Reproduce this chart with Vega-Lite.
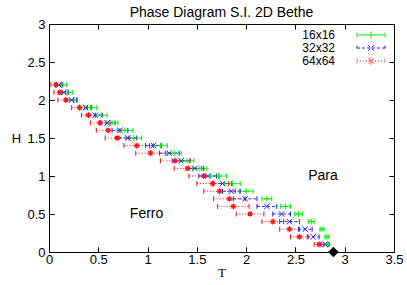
{
  "$schema": "https://vega.github.io/schema/vega-lite/v6.json",
  "width": 345,
  "height": 228,
  "autosize": {"type": "none"},
  "padding": {"left": 49, "top": 24, "right": 13, "bottom": 33},
  "background": "white",
  "title": {"text": "Phase Diagram S.I. 2D Bethe", "font": "Liberation Sans", "fontSize": 14, "fontWeight": "normal", "color": "#000", "offset": -2},
  "config": {
    "view": {"stroke": "#000", "strokeWidth": 1},
    "axis": {"domain": false, "tickColor": "#000", "tickSize": -5, "labelOverlap": false, "labelFlush": false, "labelFont": "Liberation Sans", "labelFontSize": 13, "labelColor": "#000", "titleColor": "#000", "titleFontWeight": "normal", "gridColor": "#000", "gridOpacity": 1, "gridWidth": 1}
  },
  "data": {"values": [
    {"s": "16x16", "H": 2.2, "T": 0.13, "lo": 0.08, "hi": 0.18},
    {"s": "16x16", "H": 2.1, "T": 0.19, "lo": 0.14, "hi": 0.24},
    {"s": "16x16", "H": 2.0, "T": 0.25, "lo": 0.21, "hi": 0.29},
    {"s": "16x16", "H": 1.9, "T": 0.42, "lo": 0.36, "hi": 0.48},
    {"s": "16x16", "H": 1.8, "T": 0.53, "lo": 0.47, "hi": 0.59},
    {"s": "16x16", "H": 1.7, "T": 0.64, "lo": 0.58, "hi": 0.70},
    {"s": "16x16", "H": 1.6, "T": 0.77, "lo": 0.69, "hi": 0.85},
    {"s": "16x16", "H": 1.5, "T": 0.86, "lo": 0.78, "hi": 0.94},
    {"s": "16x16", "H": 1.4, "T": 1.13, "lo": 1.06, "hi": 1.20},
    {"s": "16x16", "H": 1.3, "T": 1.27, "lo": 1.20, "hi": 1.34},
    {"s": "16x16", "H": 1.2, "T": 1.40, "lo": 1.33, "hi": 1.47},
    {"s": "16x16", "H": 1.1, "T": 1.53, "lo": 1.46, "hi": 1.60},
    {"s": "16x16", "H": 1.0, "T": 1.72, "lo": 1.64, "hi": 1.80},
    {"s": "16x16", "H": 0.9, "T": 1.86, "lo": 1.78, "hi": 1.94},
    {"s": "16x16", "H": 0.8, "T": 2.00, "lo": 1.93, "hi": 2.07},
    {"s": "16x16", "H": 0.7, "T": 2.21, "lo": 2.16, "hi": 2.26},
    {"s": "16x16", "H": 0.6, "T": 2.40, "lo": 2.35, "hi": 2.45},
    {"s": "16x16", "H": 0.5, "T": 2.53, "lo": 2.49, "hi": 2.57},
    {"s": "16x16", "H": 0.4, "T": 2.66, "lo": 2.63, "hi": 2.69},
    {"s": "16x16", "H": 0.3, "T": 2.77, "lo": 2.75, "hi": 2.79},
    {"s": "16x16", "H": 0.2, "T": 2.82, "lo": 2.80, "hi": 2.84},
    {"s": "16x16", "H": 0.1, "T": 2.83, "lo": 2.82, "hi": 2.84},
    {"s": "32x32", "H": 2.2, "T": 0.10, "lo": 0.06, "hi": 0.14},
    {"s": "32x32", "H": 2.1, "T": 0.15, "lo": 0.10, "hi": 0.20},
    {"s": "32x32", "H": 2.0, "T": 0.23, "lo": 0.18, "hi": 0.28},
    {"s": "32x32", "H": 1.9, "T": 0.37, "lo": 0.31, "hi": 0.43},
    {"s": "32x32", "H": 1.8, "T": 0.47, "lo": 0.40, "hi": 0.54},
    {"s": "32x32", "H": 1.7, "T": 0.59, "lo": 0.51, "hi": 0.67},
    {"s": "32x32", "H": 1.6, "T": 0.72, "lo": 0.64, "hi": 0.80},
    {"s": "32x32", "H": 1.5, "T": 0.80, "lo": 0.71, "hi": 0.89},
    {"s": "32x32", "H": 1.4, "T": 1.06, "lo": 0.98, "hi": 1.14},
    {"s": "32x32", "H": 1.3, "T": 1.22, "lo": 1.12, "hi": 1.32},
    {"s": "32x32", "H": 1.2, "T": 1.34, "lo": 1.25, "hi": 1.43},
    {"s": "32x32", "H": 1.1, "T": 1.48, "lo": 1.39, "hi": 1.57},
    {"s": "32x32", "H": 1.0, "T": 1.61, "lo": 1.52, "hi": 1.70},
    {"s": "32x32", "H": 0.9, "T": 1.76, "lo": 1.67, "hi": 1.85},
    {"s": "32x32", "H": 0.8, "T": 1.85, "lo": 1.76, "hi": 1.94},
    {"s": "32x32", "H": 0.7, "T": 1.99, "lo": 1.87, "hi": 2.11},
    {"s": "32x32", "H": 0.6, "T": 2.21, "lo": 2.11, "hi": 2.31},
    {"s": "32x32", "H": 0.5, "T": 2.36, "lo": 2.27, "hi": 2.45},
    {"s": "32x32", "H": 0.4, "T": 2.44, "lo": 2.34, "hi": 2.54},
    {"s": "32x32", "H": 0.3, "T": 2.60, "lo": 2.53, "hi": 2.67},
    {"s": "32x32", "H": 0.2, "T": 2.68, "lo": 2.62, "hi": 2.74},
    {"s": "32x32", "H": 0.1, "T": 2.80, "lo": 2.76, "hi": 2.84},
    {"s": "64x64", "H": 2.2, "T": 0.07, "lo": 0.02, "hi": 0.12},
    {"s": "64x64", "H": 2.1, "T": 0.11, "lo": 0.05, "hi": 0.17},
    {"s": "64x64", "H": 2.0, "T": 0.17, "lo": 0.09, "hi": 0.25},
    {"s": "64x64", "H": 1.9, "T": 0.31, "lo": 0.23, "hi": 0.39},
    {"s": "64x64", "H": 1.8, "T": 0.40, "lo": 0.33, "hi": 0.47},
    {"s": "64x64", "H": 1.7, "T": 0.52, "lo": 0.42, "hi": 0.62},
    {"s": "64x64", "H": 1.6, "T": 0.60, "lo": 0.48, "hi": 0.72},
    {"s": "64x64", "H": 1.5, "T": 0.69, "lo": 0.57, "hi": 0.81},
    {"s": "64x64", "H": 1.4, "T": 0.89, "lo": 0.76, "hi": 1.02},
    {"s": "64x64", "H": 1.3, "T": 1.03, "lo": 0.88, "hi": 1.18},
    {"s": "64x64", "H": 1.2, "T": 1.28, "lo": 1.13, "hi": 1.43},
    {"s": "64x64", "H": 1.1, "T": 1.41, "lo": 1.27, "hi": 1.55},
    {"s": "64x64", "H": 1.0, "T": 1.57, "lo": 1.42, "hi": 1.72},
    {"s": "64x64", "H": 0.9, "T": 1.66, "lo": 1.50, "hi": 1.82},
    {"s": "64x64", "H": 0.8, "T": 1.73, "lo": 1.57, "hi": 1.89},
    {"s": "64x64", "H": 0.7, "T": 1.83, "lo": 1.67, "hi": 1.99},
    {"s": "64x64", "H": 0.6, "T": 1.87, "lo": 1.71, "hi": 2.03},
    {"s": "64x64", "H": 0.5, "T": 2.04, "lo": 1.90, "hi": 2.18},
    {"s": "64x64", "H": 0.4, "T": 2.27, "lo": 2.16, "hi": 2.38},
    {"s": "64x64", "H": 0.3, "T": 2.44, "lo": 2.34, "hi": 2.54},
    {"s": "64x64", "H": 0.2, "T": 2.54, "lo": 2.45, "hi": 2.63},
    {"s": "64x64", "H": 0.1, "T": 2.74, "lo": 2.69, "hi": 2.79}
  ]},
  "layer": [
    {
      "mark": {"type": "rule", "strokeWidth": 1},
      "encoding": {
        "x": {"field": "lo", "type": "quantitative", "scale": {"domain": [0, 3.5], "nice": false, "zero": false},
              "axis": {"values": [0, 0.5, 1, 1.5, 2, 2.5, 3, 3.5], "format": ".1~f", "labelOverlap": false, "labelPadding": 6, "title": "T", "titleFont": "Liberation Serif", "titleFontSize": 13, "titlePadding": 0, "grid": true, "gridDash": [5, 218, 5, 0]}},
        "x2": {"field": "hi"},
        "y": {"field": "H", "type": "quantitative", "scale": {"domain": [0, 3], "nice": false, "zero": false},
              "axis": {"values": [0, 0.5, 1, 1.5, 2, 2.5, 3], "tickCount": 7, "labelExpr": "format(datum.value, '.1~f')", "labelOverlap": false, "labelFlush": false, "labelBound": false, "labelSeparation": 0, "labelFontSize": 13, "labelPadding": 9, "title": "H", "titleFont": "Liberation Sans", "titleFontSize": 13, "titleAngle": 0, "titleX": -33, "titleY": 114, "titleAlign": "center", "titleBaseline": "middle", "grid": true, "gridDash": [5, 335, 5, 0]}},
        "color": {"field": "s", "type": "nominal", "scale": {"domain": ["16x16", "32x32", "64x64"], "range": ["#00ee00", "#2020ff", "#ff1010"]},
                  "legend": {"orient": "none", "legendX": 316, "legendY": 5, "title": null, "symbolSize": 49, "symbolStrokeWidth": 1, "labelAlign": "right", "labelOffset": -42, "labelFont": "Liberation Sans", "labelFontSize": 12, "labelColor": "#000", "rowPadding": 1}},
        "strokeDash": {"field": "s", "type": "nominal", "scale": {"domain": ["16x16", "32x32", "64x64"], "range": [[1, 0], [3, 2], [1, 2]]},
                  "legend": {"orient": "none", "legendX": 316, "legendY": 5, "title": null, "symbolSize": 49, "symbolStrokeWidth": 1, "labelAlign": "right", "labelOffset": -42, "labelFont": "Liberation Sans", "labelFontSize": 12, "labelColor": "#000", "rowPadding": 1}}
      }
    },
    {
      "transform": [{"filter": "false"}],
      "mark": {"type": "point", "filled": false, "strokeWidth": 1, "opacity": 1},
      "encoding": {
        "x": {"field": "T", "type": "quantitative"},
        "y": {"field": "H", "type": "quantitative"},
        "color": {"field": "s", "type": "nominal", "legend": {"orient": "none", "legendX": 316, "legendY": 5, "title": null, "symbolSize": 49, "symbolStrokeWidth": 1, "labelAlign": "right", "labelOffset": -42, "labelFont": "Liberation Sans", "labelFontSize": 12, "labelColor": "#000", "rowPadding": 1}},
        "strokeDash": {"field": "s", "type": "nominal", "legend": {"orient": "none", "legendX": 316, "legendY": 5, "title": null, "symbolSize": 49, "symbolStrokeWidth": 1, "labelAlign": "right", "labelOffset": -42, "labelFont": "Liberation Sans", "labelFontSize": 12, "labelColor": "#000", "rowPadding": 1}},
        "shape": {"field": "s", "type": "nominal", "scale": {"domain": ["16x16", "32x32", "64x64"], "range": [
          "M-4,-0.7L-4,0.7M-4,0L4,0M4,-0.7L4,0.7M0,-1L0,1",
          "M-4,-0.7L-4,0.7M-4,0L4,0M4,-0.7L4,0.7M-0.8,-0.8L0.8,0.8M-0.8,0.8L0.8,-0.8",
          "M-4,-0.7L-4,0.7M-4,0L4,0M4,-0.7L4,0.7M0,-1L0,1M-0.7,-0.7L0.7,0.7M-0.7,0.7L0.7,-0.7M-0.5,-0.5L0.5,-0.5L0.5,0.5L-0.5,0.5Z"]},
                  "legend": {"orient": "none", "legendX": 316, "legendY": 5, "title": null, "symbolSize": 49, "symbolStrokeWidth": 1, "labelAlign": "right", "labelOffset": -42, "labelFont": "Liberation Sans", "labelFontSize": 12, "labelColor": "#000", "rowPadding": 1}}
      }
    },
    {
      "mark": {"type": "point", "shape": "M0,-1L0,1", "size": 25, "filled": false, "strokeWidth": 1, "opacity": 1},
      "encoding": {
        "x": {"field": "lo", "type": "quantitative"},
        "y": {"field": "H", "type": "quantitative"},
        "color": {"field": "s", "type": "nominal", "legend": null}
      }
    },
    {
      "mark": {"type": "point", "shape": "M0,-1L0,1", "size": 25, "filled": false, "strokeWidth": 1, "opacity": 1},
      "encoding": {
        "x": {"field": "hi", "type": "quantitative"},
        "y": {"field": "H", "type": "quantitative"},
        "color": {"field": "s", "type": "nominal", "legend": null}
      }
    },
    {
      "transform": [{"filter": "datum.s === '16x16'"}],
      "mark": {"type": "point", "shape": "M-1,0L1,0M0,-1L0,1", "size": 36, "filled": false, "strokeWidth": 1, "opacity": 1, "color": "#00ee00"},
      "encoding": {
        "x": {"field": "T", "type": "quantitative"},
        "y": {"field": "H", "type": "quantitative"}
      }
    },
    {
      "transform": [{"filter": "datum.s === '32x32'"}],
      "mark": {"type": "point", "shape": "M-1,-1L1,1M-1,1L1,-1", "size": 30, "filled": false, "strokeWidth": 1, "opacity": 1, "color": "#2020ff"},
      "encoding": {
        "x": {"field": "T", "type": "quantitative"},
        "y": {"field": "H", "type": "quantitative"}
      }
    },
    {
      "transform": [{"filter": "datum.s === '64x64'"}],
      "mark": {"type": "point", "shape": "M-1,0L1,0M0,-1L0,1M-0.7,-0.7L0.7,0.7M-0.7,0.7L0.7,-0.7M-0.5,-0.5L0.5,-0.5L0.5,0.5L-0.5,0.5Z", "size": 36, "filled": false, "strokeWidth": 1, "opacity": 1, "color": "#ff1010"},
      "encoding": {
        "x": {"field": "T", "type": "quantitative"},
        "y": {"field": "H", "type": "quantitative"}
      }
    },
    {
      "data": {"values": [{"T": 2.885, "H": 0}]},
      "mark": {"type": "point", "shape": "diamond", "filled": true, "color": "#000", "size": 110, "opacity": 1},
      "encoding": {
        "x": {"field": "T", "type": "quantitative"},
        "y": {"field": "H", "type": "quantitative"}
      }
    },
    {
      "data": {"values": [{"label": "Ferro", "T": 0.99, "H": 0.5}, {"label": "Para", "T": 2.78, "H": 1.0}]},
      "mark": {"type": "text", "font": "Liberation Sans", "fontSize": 14, "fill": "#000"},
      "encoding": {
        "x": {"field": "T", "type": "quantitative"},
        "y": {"field": "H", "type": "quantitative"},
        "text": {"field": "label"}
      }
    }
  ]
}
